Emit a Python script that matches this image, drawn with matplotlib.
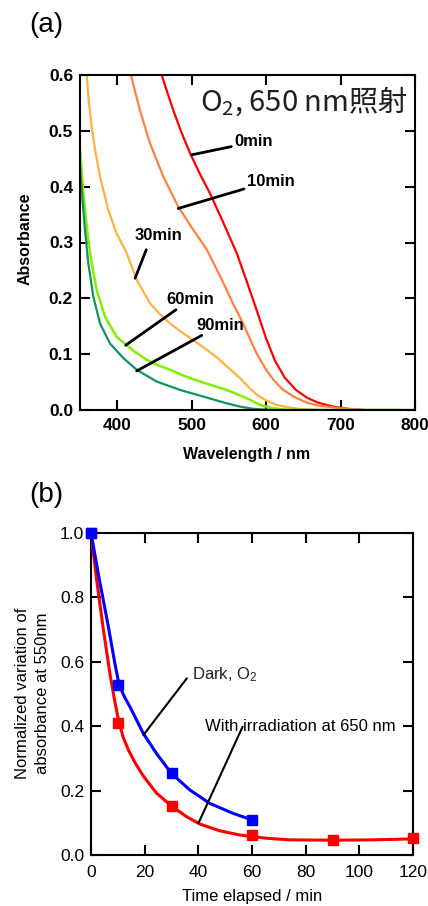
import matplotlib
matplotlib.use("Agg")
import matplotlib.pyplot as plt

plt.rcParams['font.family'] = ['Liberation Sans', 'DejaVu Sans']

# ---------------- Panel (a) data ----------------
wl_0 = [459.7, 467, 475.3, 486, 497.8, 511, 524.6, 542, 560.5, 572, 587, 600, 612, 625, 640, 655, 670, 690, 710, 730]
ab_0 = [0.600, 0.570, 0.537, 0.498, 0.460, 0.423, 0.388, 0.337, 0.281, 0.238, 0.180, 0.128, 0.088, 0.058, 0.036, 0.022, 0.013, 0.006, 0.002, 0.0]

wl_10 = [418.5, 425, 432, 444, 461.9, 482, 500, 520, 540, 555, 569, 587, 600, 610, 622, 637, 655, 670, 700, 735]
ab_10 = [0.600, 0.565, 0.530, 0.478, 0.418, 0.364, 0.327, 0.288, 0.235, 0.192, 0.155, 0.102, 0.072, 0.054, 0.037, 0.024, 0.013, 0.008, 0.003, 0.0]

wl_30 = [359, 362, 365.7, 371, 376.9, 388, 399.3, 412.7, 426.2, 444, 457, 471, 486, 502, 518, 534, 550, 565, 575, 587, 600, 612, 628, 645, 670]
ab_30 = [0.600, 0.550, 0.507, 0.460, 0.418, 0.358, 0.316, 0.281, 0.233, 0.191, 0.172, 0.155, 0.140, 0.125, 0.110, 0.094, 0.075, 0.057, 0.043, 0.028, 0.017, 0.010, 0.005, 0.002, 0.0]

wl_60 = [350, 354.5, 359, 361, 365.7, 372.4, 383.6, 399.3, 412.7, 425, 439.6, 455, 471, 490, 511, 530, 547, 560, 574, 592, 610, 630, 700, 780]
ab_60 = [0.469, 0.388, 0.330, 0.305, 0.263, 0.215, 0.167, 0.131, 0.116, 0.103, 0.090, 0.080, 0.072, 0.061, 0.051, 0.043, 0.036, 0.029, 0.021, 0.009, 0.003, 0.0, 0.0, 0.0]

wl_90 = [350, 354.5, 356.7, 361.1, 367.9, 376.9, 390.3, 408.2, 426.2, 453, 484.3, 515.6, 547, 565, 583, 610, 700, 800]
ab_90 = [0.436, 0.358, 0.322, 0.263, 0.203, 0.155, 0.119, 0.093, 0.072, 0.051, 0.036, 0.024, 0.012, 0.006, 0.002, 0.0, 0.0, 0.0]

a_xticks = [400, 500, 600, 700, 800]
a_yticks = [0.0, 0.1, 0.2, 0.3, 0.4, 0.5, 0.6]

# ---------------- Panel (b) data ----------------
t_irr = [0, 10, 30, 60, 90, 120]
v_irr = [1.0, 0.41, 0.152, 0.062, 0.047, 0.053]
t_dark = [0, 10, 30, 60]
v_dark = [1.0, 0.527, 0.255, 0.109]

t_irr_fit = [0, 2, 4.6, 7.1, 8.8, 10.2, 12, 14, 16.5, 19.5, 24.4, 30, 35.6, 40.6, 48, 55.5, 65.4, 74, 90, 105, 120]
v_irr_fit = [1.0, 0.86, 0.70, 0.56, 0.48, 0.42, 0.365, 0.325, 0.285, 0.245, 0.192, 0.152, 0.119, 0.096, 0.075, 0.062, 0.052, 0.047, 0.046, 0.047, 0.050]
t_dark_fit = [0, 3, 6.5, 9, 10.5, 12.5, 14.5, 19.5, 24.4, 30, 36.8, 44.3, 53, 60]
v_dark_fit = [1.0, 0.86, 0.707, 0.59, 0.527, 0.49, 0.46, 0.377, 0.315, 0.253, 0.202, 0.160, 0.129, 0.109]

b_xticks = [0, 20, 40, 60, 80, 100, 120]
b_yticks = [0.0, 0.2, 0.4, 0.6, 0.8, 1.0]

W, H = 428, 906
fig = plt.figure(figsize=(W / 100, H / 100), dpi=100)

def px(x, y):
    return x / W, 1 - y / H

# ---------------- Axes (a) ----------------
ax1 = fig.add_axes([80 / W, 1 - 410 / H, 335 / W, 335 / H])
ax1.plot(wl_0, ab_0, color='#FF0000', lw=1.6)
ax1.plot(wl_10, ab_10, color='#FF8040', lw=1.6)
ax1.plot(wl_30, ab_30, color='#FFB040', lw=1.6)
ax1.plot(wl_60, ab_60, color='#80F000', lw=1.8)
ax1.plot(wl_90, ab_90, color='#10955A', lw=1.6)
ax1.set_xlim(350, 800)
ax1.set_ylim(0, 0.6)
ax1.set_xticks(a_xticks)
ax1.set_yticks(a_yticks)
ax1.set_xticklabels([str(v) for v in a_xticks], fontweight='bold', fontsize=12.5)
ax1.set_yticklabels(['%.1f' % v for v in a_yticks], fontweight='bold', fontsize=12.5)
ax1.tick_params(direction='in', length=7.5, width=1.5, top=True, right=True, pad=5)
ax1.tick_params(axis='x', pad=6)
for s in ax1.spines.values():
    s.set_linewidth(1.5)

line_kw_a = dict(arrowstyle='-', color='black', lw=2, shrinkA=0, shrinkB=0)
ann_kw = dict(fontsize=12, fontweight='bold', va='center', ha='left', arrowprops=line_kw_a)
ax1.annotate('0min', xy=(500, 0.457), xytext=(557, 0.480), **ann_kw)
ax1.annotate('10min', xy=(482, 0.361), xytext=(574, 0.410), **ann_kw)
ax1.annotate('', xy=(424, 0.236), xytext=(439, 0.287), arrowprops=line_kw_a)
ax1.text(455, 0.312, '30min', fontsize=12, fontweight='bold', ha='center', va='center')
ax1.annotate('60min', xy=(411.4, 0.116), xytext=(466.4, 0.198), **ann_kw)
ax1.annotate('90min', xy=(426.2, 0.070), xytext=(506.8, 0.152), **ann_kw)

ax1.text(790, 0.553, r'$\mathregular{O_2}$, 650 nm照射', family=['Noto Sans CJK JP'],
         fontsize=21, ha='right', va='center', color='#202020')

fig.text(*px(25, 239), 'Absorbance', rotation=90, fontsize=11.5, fontweight='bold',
         ha='center', va='center')
fig.text(*px(247, 455), 'Wavelength / nm', fontsize=11.5, fontweight='bold',
         ha='center', va='center')
fig.text(*px(29, 25), '(a)', fontsize=20, ha='left', va='center')

# ---------------- Axes (b) ----------------
ax2 = fig.add_axes([91 / W, 1 - 855 / H, 322 / W, 322.3 / H])
ax2.plot(t_irr_fit, v_irr_fit, color='#FF0000', lw=2.2, zorder=3)
ax2.plot(t_dark_fit, v_dark_fit, color='#0000FF', lw=2.2, zorder=3)
ax2.plot(t_irr, v_irr, ls='none', marker='s', ms=6.5, color='#FF0000', zorder=4, clip_on=False)
ax2.plot(t_dark, v_dark, ls='none', marker='s', ms=6.5, color='#0000FF', zorder=4, clip_on=False)
ax2.set_xlim(0, 120)
ax2.set_ylim(0, 1.0)
ax2.set_xticks(b_xticks)
ax2.set_yticks(b_yticks)
ax2.set_xticklabels([str(v) for v in b_xticks], fontsize=12.5)
ax2.set_yticklabels(['%.1f' % v for v in b_yticks], fontsize=12.5)
ax2.tick_params(direction='in', length=7.5, width=1.5, top=True, right=True, pad=5)
ax2.tick_params(axis='x', pad=7)
for s in ax2.spines.values():
    s.set_linewidth(1.5)

line_kw = dict(arrowstyle='-', color='black', lw=1.5, shrinkA=0, shrinkB=0)
ax2.annotate('', xy=(19.5, 0.372), xytext=(35.7, 0.548), arrowprops=line_kw)
ax2.text(37.5, 0.56, r'Dark, $\mathregular{O_2}$', fontsize=12, ha='left', va='center', color='#2a2218')
ax2.annotate('', xy=(40, 0.098), xytext=(56.5, 0.398), arrowprops=line_kw)
ax2.text(42.5, 0.40, 'With irradiation at 650 nm', fontsize=12, ha='left', va='center')

fig.text(*px(23, 693), 'Normalized variation of', rotation=90, fontsize=12, ha='center', va='center')
fig.text(*px(43, 693), 'absorbance at 550nm', rotation=90, fontsize=12, ha='center', va='center')
fig.text(*px(252, 897), 'Time elapsed / min', fontsize=12, ha='center', va='center')
fig.text(*px(29, 495), '(b)', fontsize=20, ha='left', va='center')

fig.savefig('out.png', dpi=100)
